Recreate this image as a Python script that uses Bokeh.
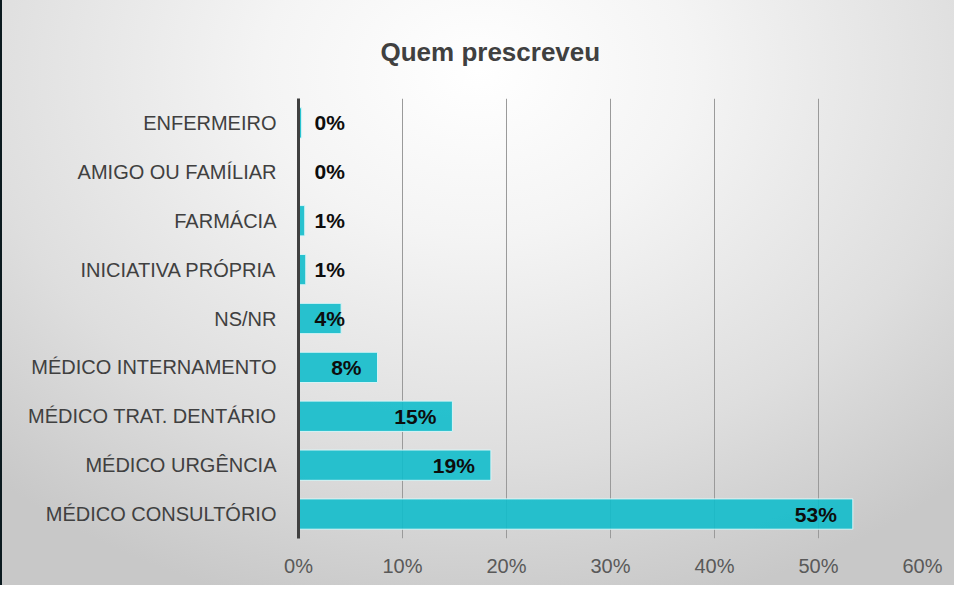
from bokeh.plotting import figure
from bokeh.models import ColumnDataSource, FixedTicker, PrintfTickFormatter, Title, FactorRange
from bokeh.core.properties import value
from bokeh.embed import file_html
from bokeh.resources import INLINE

# data (bottom to top)
categories = ["MÉDICO CONSULTÓRIO", "MÉDICO URGÊNCIA", "MÉDICO TRAT. DENTÁRIO",
              "MÉDICO INTERNAMENTO", "NS/NR", "INICIATIVA PRÓPRIA", "FARMÁCIA",
              "AMIGO OU FAMÍLIAR", "ENFERMEIRO"]
percent = [53.3, 18.5, 14.8, 7.6, 4.1, 0.7, 0.6, 0.0, 0.3]
labels = ["53%", "19%", "15%", "8%", "4%", "1%", "1%", "0%", "0%"]
x_ticks = [0, 10, 20, 30, 40, 50, 60]

FONT = "Liberation Sans"
LABEL_GAP = 1.54  # in axis units (~16px)

inside = [v >= 6 for v in percent]
label_x = [v - LABEL_GAP if ins else LABEL_GAP for v, ins in zip(percent, inside)]
label_align = ["right" if ins else "left" for ins in inside]

src = ColumnDataSource(dict(cat=categories, val=percent, lab=labels,
                            lx=label_x, la=label_align))

p = figure(width=954, height=585, y_range=FactorRange(factors=categories, range_padding=0),
           x_range=(0, 60), output_backend="svg", toolbar_location=None,
           min_border_left=296, min_border_right=34, min_border_top=98, min_border_bottom=47)

p.styles = {"background": "radial-gradient(ellipse 75% 95% at 50% 12%, #ffffff 0%, #f4f4f4 30%, #dedede 70%, #c8c8c8 100%)",
            "border-left": "2px solid #0b1a1f"}
p.border_fill_alpha = 0
p.background_fill_alpha = 0
p.outline_line_color = None

p.hbar(y="cat", right="val", left=0, height=0.62, source=src,
       fill_color="#12bccb", fill_alpha=0.9, line_color="#d8f4f6", line_width=1)

p.text(x="lx", y="cat", text="lab", source=src, text_align="la", text_baseline="middle",
       text_font=value(FONT), text_font_style="bold", text_font_size="21px",
       text_color="#0d0d0d")

t = Title(text="Quem prescreveu", align="left", offset=82,
          text_font=FONT, text_font_size="26px", text_font_style="bold",
          text_color="#404040", standoff=64)
p.add_layout(t, "above")

# x axis
p.xaxis.ticker = FixedTicker(ticks=x_ticks)
p.xaxis.formatter = PrintfTickFormatter(format="%d%%")
p.xaxis.axis_line_color = None
p.xaxis.major_tick_line_color = None
p.xaxis.minor_tick_line_color = None
p.xaxis.major_label_text_font = FONT
p.xaxis.major_label_text_font_size = "20px"
p.xaxis.major_label_text_color = "#595959"
p.xaxis.major_label_standoff = 10

# y axis
p.yaxis.axis_line_color = "#404040"
p.yaxis.axis_line_width = 3
p.yaxis.major_tick_line_color = None
p.yaxis.minor_tick_line_color = None
p.yaxis.major_label_text_font = FONT
p.yaxis.major_label_text_font_size = "20px"
p.yaxis.major_label_text_color = "#404040"
p.yaxis.major_label_standoff = 16

p.xgrid.grid_line_color = "#9a9a9a"
p.xgrid.grid_line_width = 1
p.ygrid.grid_line_color = None

open("out.html", "w").write(file_html(p, INLINE))
